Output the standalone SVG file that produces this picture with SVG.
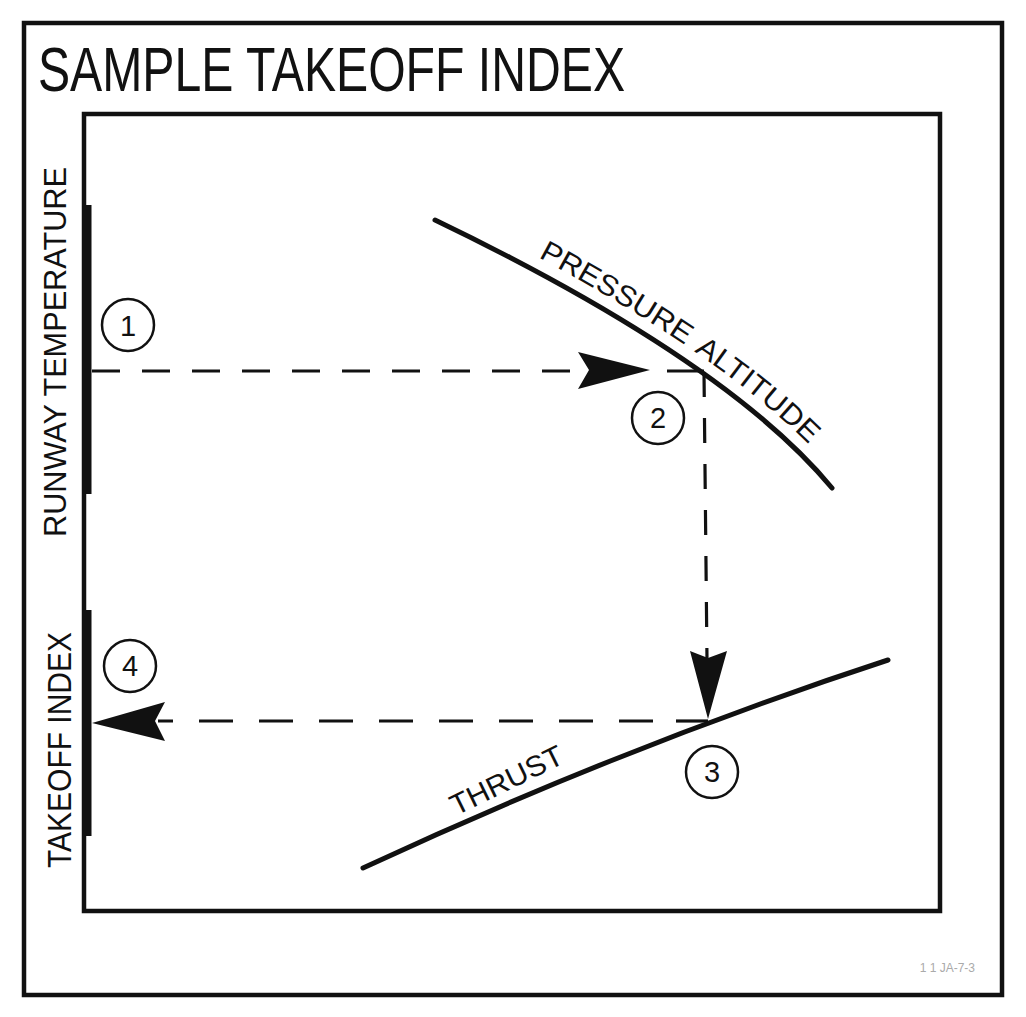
<svg xmlns="http://www.w3.org/2000/svg" xmlns:xlink="http://www.w3.org/1999/xlink" width="1026" height="1017" viewBox="0 0 1026 1017">
<style>
  .frame{fill:none;stroke:#111;stroke-width:4.5}
  .curve{fill:none;stroke:#111;stroke-width:5;stroke-linecap:round}
  .dash{fill:none;stroke:#111;stroke-width:3.2}
  .head{fill:#111;stroke:none}
  .circ{fill:#fff;stroke:#111;stroke-width:2.5}
  .lbl{font-family:"Liberation Sans",Arial,sans-serif;fill:#111}
  .num{font-family:"Liberation Sans",Arial,sans-serif;fill:#111;font-size:29px;text-anchor:middle}
</style>
<defs>
  <path id="paTextPath" d="M442,208 Q733,350 840,478"/>
</defs>
<rect width="1026" height="1017" fill="#fff"/>

<g id="outer-frame">
  <rect class="frame" x="24" y="23" width="978" height="972"/>
</g>
<g id="title">
  <text class="lbl" x="38" y="91" font-size="63" textLength="587" lengthAdjust="spacingAndGlyphs">SAMPLE TAKEOFF INDEX</text>
</g>
<g id="chart-frame">
  <path class="frame" d="M84,114 H940 V911 H84 Z" stroke-width="3.5"/>
  <line x1="87" y1="205" x2="87" y2="494" stroke="#111" stroke-width="9"/>
  <line x1="87" y1="610" x2="87" y2="836" stroke="#111" stroke-width="9"/>
</g>

<g id="axis-runway-temperature">
  <text class="lbl" transform="translate(66,537) rotate(-90)" font-size="31" textLength="370" lengthAdjust="spacingAndGlyphs">RUNWAY TEMPERATURE</text>
</g>
<g id="axis-takeoff-index">
  <text class="lbl" transform="translate(71,868) rotate(-90)" font-size="33" textLength="236" lengthAdjust="spacingAndGlyphs">TAKEOFF INDEX</text>
</g>

<g id="pressure-altitude">
  <path class="curve" d="M435,220 Q726,360 832,488"/>
  <text class="lbl" font-size="29"><textPath href="#paTextPath" xlink:href="#paTextPath" startOffset="108" textLength="171" lengthAdjust="spacingAndGlyphs">PRESSURE</textPath></text>
  <text class="lbl" font-size="29"><textPath href="#paTextPath" xlink:href="#paTextPath" startOffset="290" textLength="148" lengthAdjust="spacingAndGlyphs">ALTITUDE</textPath></text>
</g>

<g id="thrust">
  <path class="curve" d="M363,868 Q625,746 888,660"/>
  <text class="lbl" transform="translate(456,816) rotate(-26)" font-size="29" textLength="122" lengthAdjust="spacingAndGlyphs">THRUST</text>
</g>

<g id="connectors">
  <line class="dash" x1="92" y1="371" x2="582" y2="371" stroke-dasharray="28 22"/>
  <path class="head" d="M650,370 L578,352 L589,370 L578,389 Z"/>
  <line class="dash" x1="667" y1="371" x2="704" y2="371"/>
  <line class="dash" x1="704" y1="372" x2="707" y2="660" stroke-dasharray="25 21"/>
  <path class="head" d="M708,719 L690,651 L708,658 L727,651 Z"/>
  <line class="dash" x1="676" y1="721" x2="708" y2="721"/>
  <line class="dash" x1="653" y1="721" x2="158" y2="721" stroke-dasharray="34 26"/>
  <path class="head" d="M92,723 L165,702 L155,721 L165,741 Z"/>
</g>

<g id="step-1">
  <circle class="circ" cx="128" cy="325" r="26"/>
  <text class="num" x="128" y="336" font-family="Liberation Serif">1</text>
</g>
<g id="step-2">
  <circle class="circ" cx="658" cy="418" r="26"/>
  <text class="num" x="658" y="428">2</text>
</g>
<g id="step-3">
  <circle class="circ" cx="712" cy="772" r="26"/>
  <text class="num" x="712" y="782">3</text>
</g>
<g id="step-4">
  <circle class="circ" cx="130" cy="666" r="26"/>
  <text class="num" x="130" y="676">4</text>
</g>

<g id="figure-id">
  <text class="lbl" x="975" y="972" font-size="12" text-anchor="end" style="fill:#aaa">1 1 JA-7-3</text>
</g>
</svg>
